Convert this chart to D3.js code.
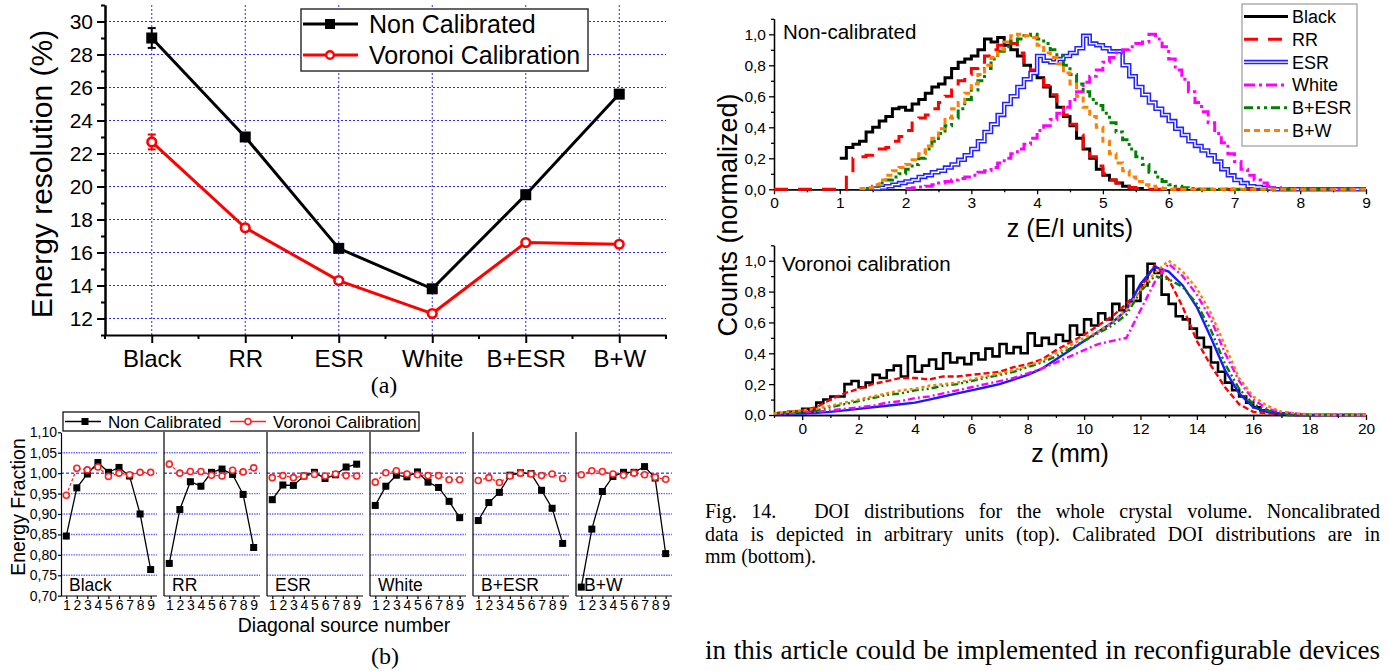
<!DOCTYPE html>
<html><head><meta charset="utf-8">
<script src="https://cdn.jsdelivr.net/npm/d3@7"></script>
<style>body{margin:0;background:#fff}svg{display:block}text{font-family:"Liberation Sans",Arial,sans-serif;fill:#000}</style>
</head><body><svg id="c" width="1388" height="671"></svg>
<script>
// ---------------- DATA ----------------
const categories = ["Black","RR","ESR","White","B+ESR","B+W"];
const resNonCal = [29.0,23.0,16.25,13.8,19.5,25.6];
const resNonCalErr = [0.6,0.2,0.2,0.15,0.25,0.25];
const resVoronoi = [22.7,17.5,14.3,12.3,16.6,16.5];
const resVoronoiErr = [0.45,0.15,0.15,0.15,0.15,0.1];
const resTicks = [12,14,16,18,20,22,24,26,28,30];
const resMinor = [11,13,15,17,19,21,23,25,27,29,31];

const sourceNumbers = [1,2,3,4,5,6,7,8,9];
const fracTicks = [0.70,0.75,0.80,0.85,0.90,0.95,1.00,1.05,1.10];
const fracGrid = [0.75,0.80,0.85,0.90,0.95,1.00,1.05];
const fracNonCal = [
  [0.846,0.964,0.998,1.026,1.002,1.014,0.993,0.900,0.764],
  [0.779,0.911,0.979,0.968,1.002,1.010,0.997,0.948,0.818],
  [0.935,0.971,0.970,0.993,1.002,0.987,0.996,1.015,1.022],
  [0.921,0.968,0.995,0.991,1.003,0.978,0.965,0.931,0.891],
  [0.884,0.928,0.953,0.995,1.001,0.999,0.958,0.914,0.828],
  [0.721,0.863,0.955,0.992,1.002,1.002,1.016,0.988,0.803]
];
const fracVoronoi = [
  [0.946,1.012,1.008,1.015,0.992,1.000,0.996,1.002,1.002],
  [1.022,1.000,1.004,1.004,0.995,0.993,1.007,1.003,1.013],
  [0.989,0.994,0.989,0.993,0.997,0.993,0.998,0.994,0.993],
  [0.978,1.001,1.006,0.998,0.996,0.994,0.994,0.984,0.984],
  [0.982,0.989,0.977,0.993,1.000,0.998,0.994,0.998,0.987],
  [0.996,1.006,1.004,0.998,0.995,1.000,0.996,0.990,0.985]
];

// DOI non-calibrated (E/I units), bins of 0.1, first bin start given
const doiSeries = ["Black","RR","ESR","White","B+ESR","B+W"];
const ncStep = 0.1;
const ncStart = [1.0, 1.1, 1.5, 2.0, 1.4, 1.3];
const ncBlack = [0.20,0.27,0.29,0.31,0.37,0.40,0.44,0.47,0.52,0.53,0.51,0.55,0.58,0.62,0.66,0.68,0.72,0.78,0.82,0.84,0.86,0.90,0.97,0.95,0.98,0.93,0.90,0.86,0.80,0.76,0.72,0.66,0.60,0.53,0.47,0.41,0.33,0.26,0.20,0.13,0.09,0.06,0.04,0.02,0.01,0.005];
const ncRR = [0.10,0.20,0.21,0.22,0.24,0.26,0.27,0.31,0.34,0.38,0.45,0.46,0.48,0.52,0.56,0.60,0.64,0.70,0.74,0.78,0.82,0.86,0.90,0.93,0.96,0.94,0.88,0.82,0.77,0.72,0.67,0.61,0.55,0.48,0.42,0.35,0.27,0.21,0.15,0.10,0.06,0.04,0.02,0.01,0.005];
const ncESR = [0.005,0.01,0.02,0.03,0.04,0.05,0.06,0.08,0.09,0.11,0.12,0.14,0.16,0.19,0.22,0.26,0.31,0.37,0.42,0.48,0.55,0.60,0.66,0.71,0.75,0.86,0.83,0.82,0.84,0.86,0.88,0.91,0.99,0.94,0.93,0.91,0.89,0.89,0.80,0.73,0.66,0.61,0.56,0.52,0.48,0.44,0.39,0.35,0.31,0.28,0.25,0.22,0.18,0.13,0.09,0.06,0.04,0.02,0.015,0.01,0.005];
const ncWhite = [0.005,0.01,0.015,0.02,0.03,0.04,0.05,0.06,0.07,0.08,0.09,0.11,0.12,0.14,0.17,0.20,0.23,0.26,0.29,0.33,0.38,0.41,0.45,0.49,0.53,0.58,0.63,0.69,0.73,0.77,0.82,0.85,0.88,0.90,0.92,0.94,0.95,1.00,0.97,0.92,0.84,0.77,0.71,0.63,0.56,0.50,0.43,0.36,0.30,0.23,0.18,0.13,0.09,0.06,0.04,0.02,0.01,0.005];
const ncBESR = [0.005,0.02,0.04,0.06,0.08,0.10,0.13,0.16,0.20,0.26,0.31,0.36,0.41,0.46,0.52,0.58,0.64,0.70,0.78,0.84,0.89,0.92,0.95,0.97,0.99,1.00,0.97,0.94,0.90,0.86,0.80,0.74,0.68,0.63,0.58,0.54,0.49,0.43,0.37,0.32,0.26,0.21,0.16,0.11,0.08,0.05,0.03,0.02,0.01,0.005];
const ncBW = [0.005,0.01,0.03,0.06,0.09,0.12,0.14,0.16,0.19,0.23,0.28,0.33,0.39,0.46,0.52,0.56,0.62,0.68,0.74,0.80,0.85,0.90,0.95,0.99,1.00,0.99,0.98,0.93,0.88,0.85,0.81,0.75,0.68,0.60,0.53,0.47,0.40,0.31,0.23,0.17,0.12,0.08,0.05,0.03,0.02,0.01,0.005];

// DOI Voronoi calibrated (mm), values from z = -1
const vcStart = -1;
const vcBlackStep = 0.25;
const vcBlack = [0.01,0.01,0.02,0.02,0.04,0.03,0.08,0.10,0.12,0.12,0.20,0.22,0.18,0.21,0.26,0.24,0.29,0.32,0.25,0.38,0.28,0.32,0.36,0.30,0.40,0.34,0.37,0.33,0.40,0.36,0.43,0.38,0.46,0.40,0.44,0.40,0.53,0.45,0.50,0.46,0.52,0.48,0.58,0.52,0.62,0.58,0.66,0.62,0.72,0.68,0.90,0.74,0.84,0.98,0.92,0.78,0.72,0.64,0.62,0.56,0.50,0.44,0.34,0.28,0.21,0.16,0.12,0.08,0.05,0.03,0.02,0.01,0.01];
const vcStep = 0.5;
const vcRR = [0.01,0.02,0.03,0.05,0.10,0.14,0.17,0.20,0.22,0.24,0.24,0.23,0.25,0.25,0.26,0.27,0.28,0.31,0.33,0.36,0.42,0.47,0.52,0.58,0.64,0.72,0.82,0.97,0.88,0.70,0.48,0.32,0.18,0.07,0.02,0.01,0.005];
const vcESR = [0.005,0.01,0.01,0.015,0.02,0.03,0.04,0.05,0.06,0.07,0.08,0.10,0.12,0.14,0.16,0.18,0.20,0.23,0.26,0.30,0.36,0.42,0.48,0.54,0.60,0.68,0.85,0.96,0.93,0.84,0.70,0.50,0.29,0.14,0.05,0.02,0.01];
const vcWhite = [0.01,0.01,0.02,0.02,0.03,0.04,0.05,0.06,0.08,0.09,0.11,0.12,0.14,0.16,0.18,0.20,0.22,0.24,0.27,0.30,0.34,0.38,0.42,0.46,0.48,0.50,0.68,0.86,0.98,0.90,0.78,0.62,0.40,0.22,0.10,0.04,0.02,0.01];
const vcBESR = [0.01,0.02,0.02,0.03,0.05,0.07,0.09,0.11,0.13,0.14,0.16,0.17,0.19,0.20,0.22,0.24,0.26,0.28,0.31,0.34,0.38,0.43,0.48,0.53,0.58,0.65,0.80,0.90,0.88,0.83,0.72,0.55,0.33,0.17,0.07,0.03,0.01];
const vcBW = [0.01,0.02,0.03,0.04,0.06,0.08,0.10,0.12,0.14,0.16,0.17,0.19,0.20,0.21,0.23,0.25,0.27,0.29,0.32,0.35,0.40,0.45,0.50,0.54,0.60,0.68,0.81,0.92,1.00,0.93,0.82,0.66,0.45,0.24,0.12,0.06,0.02,0.01,0.005];

const doiYTicks = [0,0.2,0.4,0.6,0.8,1.0];
const doiYMinor = [0.1,0.3,0.5,0.7,0.9,1.1];
const ncXTicks = [0,1,2,3,4,5,6,7,8,9];
const ncXMinor = [0.5,1.5,2.5,3.5,4.5,5.5,6.5,7.5,8.5];
const vcXTicks = [0,2,4,6,8,10,12,14,16,18,20];
const vcXMinor = [-1,1,3,5,7,9,11,13,15,17,19];

// ---------------- DRAW ----------------
const SERIF = '"Liberation Serif","Times New Roman",serif';
const svg = d3.select("#c");
svg.append("rect").attr("width",1388).attr("height",671).attr("fill","#fff");
const gridBlue = "#2a2aff";

function styleAxis(g, fs, sw){
  g.select(".domain").attr("stroke","#000").attr("stroke-width",sw);
  g.selectAll(".tick line").attr("stroke","#000").attr("stroke-width",sw);
  g.selectAll("text").attr("font-size",fs).attr("fill","#000");
}

// ===== (a) =====
const xa = d3.scalePoint().domain(categories).range([105,666]).padding(0.5);
const ya = d3.scaleLinear().domain([11,31]).range([335,5]);
const ga = svg.append("g");
ga.selectAll(".hg").data(resTicks).join("line")
  .attr("x1",105).attr("x2",666).attr("y1",d=>ya(d)).attr("y2",d=>ya(d))
  .attr("stroke",gridBlue).attr("stroke-width",1).attr("stroke-dasharray","2,2");
ga.selectAll(".vg").data(categories).join("line")
  .attr("x1",d=>xa(d)).attr("x2",d=>xa(d)).attr("y1",5).attr("y2",335)
  .attr("stroke",gridBlue).attr("stroke-width",1).attr("stroke-dasharray","2,2");
const ayMinor = ga.append("g").attr("transform","translate(105,0)")
  .call(d3.axisLeft(ya).tickValues(resMinor).tickFormat("").tickSize(4).tickSizeOuter(0));
styleAxis(ayMinor,21,2);
const ay = ga.append("g").attr("transform","translate(105,0)")
  .call(d3.axisLeft(ya).tickValues(resTicks).tickSize(8).tickPadding(4).tickSizeOuter(0));
styleAxis(ay,21,2);
const ax = ga.append("g").attr("transform","translate(0,335)")
  .call(d3.axisBottom(xa).tickSize(8).tickPadding(7).tickSizeOuter(0));
styleAxis(ax,24,2);
const stepA = xa.step();
const minorA = [xa(categories[0])-stepA/2].concat(categories.map(c=>xa(c)+stepA/2));
ga.selectAll(".mxa").data(minorA).join("line")
  .attr("x1",d=>d).attr("x2",d=>d).attr("y1",335).attr("y2",339).attr("stroke","#000").attr("stroke-width",2);
ga.append("text").attr("transform","translate(52,174) rotate(-90)").attr("text-anchor","middle")
  .attr("font-size",30).text("Energy resolution (%)");

function seriesA(vals, errs, color, marker){
  const pts = categories.map((c,i)=>({x:xa(c), v:vals[i], e:errs[i]}));
  ga.append("path").datum(pts).attr("fill","none").attr("stroke",color).attr("stroke-width",3)
    .attr("d",d3.line().x(d=>d.x).y(d=>ya(d.v)));
  pts.forEach(p=>{
    ga.append("line").attr("x1",p.x).attr("x2",p.x).attr("y1",ya(p.v-p.e)).attr("y2",ya(p.v+p.e)).attr("stroke",color).attr("stroke-width",2);
    [p.v-p.e,p.v+p.e].forEach(v=>ga.append("line").attr("x1",p.x-4).attr("x2",p.x+4).attr("y1",ya(v)).attr("y2",ya(v)).attr("stroke",color).attr("stroke-width",2));
    if(marker==="sq") ga.append("rect").attr("x",p.x-5.5).attr("y",ya(p.v)-5.5).attr("width",11).attr("height",11).attr("fill",color);
    else ga.append("circle").attr("cx",p.x).attr("cy",ya(p.v)).attr("r",4.3).attr("fill","#fff").attr("stroke",color).attr("stroke-width",2.6);
  });
}
seriesA(resNonCal,resNonCalErr,"#000","sq");
seriesA(resVoronoi,resVoronoiErr,"#ff0000","ci");
ga.append("rect").attr("x",301).attr("y",9).attr("width",287).attr("height",62).attr("fill","#fff").attr("stroke","#333").attr("stroke-width",1.5);
[["Non Calibrated","#000","sq",24],["Voronoi Calibration","#ff0000","ci",55]].forEach(([t,c,m,y])=>{
  ga.append("line").attr("x1",303).attr("x2",358).attr("y1",y).attr("y2",y).attr("stroke",c).attr("stroke-width",3);
  if(m==="sq") ga.append("rect").attr("x",325).attr("y",y-5).attr("width",10).attr("height",10).attr("fill",c);
  else ga.append("circle").attr("cx",330).attr("cy",y).attr("r",3.8).attr("fill","#fff").attr("stroke",c).attr("stroke-width",2.4);
  ga.append("text").attr("x",369).attr("y",y).attr("dy","0.36em").attr("font-size",25).text(t);
});
svg.append("text").attr("x",384).attr("y",393).attr("text-anchor","middle").style("font-family",SERIF).attr("font-size",24).text("(a)");

// ===== (b) =====
const yb = d3.scaleLinear().domain([0.70,1.10]).range([595.7,432.3]);
const gb = svg.append("g");
const commaFmt2 = d=>d.toFixed(2).replace(".",",");
categories.forEach((cat,i)=>{
  const x0 = 61 + i*103;
  const xb = d3.scaleLinear().domain([0.5,9.6]).range([x0,x0+96]);
  gb.selectAll(null).data(fracGrid).join("line")
    .attr("x1",x0).attr("x2",x0+96).attr("y1",d=>yb(d)).attr("y2",d=>yb(d))
    .attr("stroke",d=>d===1?"#0000ee":"#6b6bff").attr("stroke-width",d=>d===1?1:1.4).attr("stroke-dasharray",d=>d===1?"3,2":"1.5,1");
  const axb = gb.append("g").attr("transform","translate(0,596)")
    .call(d3.axisBottom(xb).tickValues(sourceNumbers).tickFormat(d3.format("d")).tickSize(3).tickPadding(1).tickSizeOuter(0));
  styleAxis(axb,14,1.2);
  axb.select(".domain").attr("d",`M${x0},0H${x0+96}`);
  if(i===0){
    const ayb = gb.append("g").attr("transform",`translate(${x0},0)`)
      .call(d3.axisLeft(yb).tickValues(fracTicks).tickFormat(commaFmt2).tickSize(3).tickPadding(1).tickSizeOuter(0));
    styleAxis(ayb,14,1.2);
  } else {
    gb.append("line").attr("x1",x0).attr("x2",x0).attr("y1",432).attr("y2",596).attr("stroke","#000").attr("stroke-width",1.2);
  }
  gb.append("text").attr("x",x0+8).attr("y",591).attr("font-size",17.5).text(cat);
  const nc = sourceNumbers.map((s,k)=>({s, v:fracNonCal[i][k]}));
  const vc = sourceNumbers.map((s,k)=>({s, v:fracVoronoi[i][k]}));
  gb.append("path").datum(vc).attr("fill","none").attr("stroke","#ff2020").attr("stroke-width",1.2).attr("stroke-dasharray","3,2")
    .attr("d",d3.line().x(d=>xb(d.s)).y(d=>yb(d.v)));
  gb.append("path").datum(nc).attr("fill","none").attr("stroke","#000").attr("stroke-width",1.3)
    .attr("d",d3.line().x(d=>xb(d.s)).y(d=>yb(d.v)));
  nc.forEach(d=>{
    gb.append("line").attr("x1",xb(d.s)).attr("x2",xb(d.s)).attr("y1",yb(d.v-0.008)).attr("y2",yb(d.v+0.008)).attr("stroke","#000").attr("stroke-width",1);
    gb.append("rect").attr("x",xb(d.s)-3.5).attr("y",yb(d.v)-3.5).attr("width",7).attr("height",7).attr("fill","#000");
  });
  vc.forEach(d=>{
    gb.append("line").attr("x1",xb(d.s)).attr("x2",xb(d.s)).attr("y1",yb(d.v-0.008)).attr("y2",yb(d.v+0.008)).attr("stroke","#ff2020").attr("stroke-width",1);
    gb.append("circle").attr("cx",xb(d.s)).attr("cy",yb(d.v)).attr("r",3).attr("fill","#fff").attr("stroke","#ff2020").attr("stroke-width",1.6);
  });
});
gb.append("text").attr("transform","translate(25,507) rotate(-90)").attr("text-anchor","middle").attr("font-size",19.5).text("Energy Fraction");
gb.append("text").attr("x",344).attr("y",632).attr("text-anchor","middle").attr("font-size",19.5).text("Diagonal source number");
gb.append("rect").attr("x",63).attr("y",412).attr("width",356).attr("height",19).attr("fill","#fff").attr("stroke","#000").attr("stroke-width",1.2);
gb.append("line").attr("x1",65).attr("x2",101).attr("y1",421.5).attr("y2",421.5).attr("stroke","#000").attr("stroke-width",1.5);
gb.append("rect").attr("x",81.5).attr("y",418).attr("width",7).attr("height",7).attr("fill","#000");
gb.append("text").attr("x",108).attr("y",421.5).attr("dy","0.36em").attr("font-size",17).text("Non Calibrated");
gb.append("line").attr("x1",230).attr("x2",266).attr("y1",421.5).attr("y2",421.5).attr("stroke","#ff2020").attr("stroke-width",1.5);
gb.append("circle").attr("cx",248).attr("cy",421.5).attr("r",3).attr("fill","#fff").attr("stroke","#ff2020").attr("stroke-width",1.6);
gb.append("text").attr("x",273).attr("y",421.5).attr("dy","0.36em").attr("font-size",17).text("Voronoi Calibration");
svg.append("text").attr("x",385).attr("y",664).attr("text-anchor","middle").style("font-family",SERIF).attr("font-size",24).text("(b)");

// ===== DOI charts =====
const commaFmt1 = d=>d.toFixed(1).replace(".",",");
const topStyles = [
  {c:"#000000", w:3, dash:null},
  {c:"#ff0000", w:3, dash:"14,10"},
  {c:"#2323ff", w:4.5, dash:null, dbl:true},
  {c:"#ff00ff", w:3, dash:"11,4,3,4"},
  {c:"#008000", w:3, dash:"9,4,3,4,3,4"},
  {c:"#ff8000", w:3, dash:"6,4"}
];
const botStyles = [
  {c:"#000000", w:2.6, dash:null},
  {c:"#ff0000", w:2.4, dash:"6,3"},
  {c:"#1a1aff", w:2.4, dash:null},
  {c:"#ff00ff", w:2.4, dash:"7,3,2,3"},
  {c:"#008000", w:2.4, dash:"7,3,2,3,2,3"},
  {c:"#ff8000", w:2.4, dash:"3,3"}
];

function doiAxes(g, x, y, xTicks, xMinor, x0, yB){
  const axm = g.append("g").attr("transform",`translate(0,${yB})`).call(d3.axisBottom(x).tickValues(xMinor).tickFormat("").tickSize(3).tickSizeOuter(0));
  styleAxis(axm,15,1.3);
  const axM = g.append("g").attr("transform",`translate(0,${yB})`).call(d3.axisBottom(x).tickValues(xTicks).tickFormat(d3.format("d")).tickSize(5).tickPadding(3).tickSizeOuter(0));
  styleAxis(axM,15.5,1.3);
  const aym = g.append("g").attr("transform",`translate(${x0},0)`).call(d3.axisLeft(y).tickValues(doiYMinor).tickFormat("").tickSize(3).tickSizeOuter(0));
  styleAxis(aym,15,1.3);
  const ayM = g.append("g").attr("transform",`translate(${x0},0)`).call(d3.axisLeft(y).tickValues(doiYTicks).tickFormat(commaFmt1).tickSize(5).tickPadding(3).tickSizeOuter(0));
  styleAxis(ayM,15.5,1.3);
}
function drawPath(g, pts, x, y, st, curve){
  const line = d3.line().x(d=>x(d[0])).y(d=>y(d[1])).curve(curve);
  const p = g.append("path").datum(pts).attr("fill","none").attr("stroke",st.c).attr("stroke-width",st.w).attr("d",line);
  if(st.dash) p.attr("stroke-dasharray",st.dash);
  if(st.dbl) g.append("path").datum(pts).attr("fill","none").attr("stroke","#fff").attr("stroke-width",1.4).attr("d",line);
}

// top chart
const xt = d3.scaleLinear().domain([0,9]).range([774,1366]);
const yt = d3.scaleLinear().domain([0,1.1]).range([189.3,18.8]);
const gt = svg.append("g");
doiAxes(gt, xt, yt, ncXTicks, ncXMinor, 774, 189.3);
const ncVals = [ncBlack, ncRR, ncESR, ncWhite, ncBESR, ncBW];
ncVals.forEach((vals,si)=>{
  const pts = [];
  const s = ncStart[si];
  if(si===1){ for(let k=0;k<Math.round(s/ncStep);k++) pts.push([k*ncStep,0]); }
  vals.forEach((v,k)=>pts.push([s+k*ncStep, v]));
  const end = s+vals.length*ncStep;
  pts.push([end,0]);
  if(si!==0) pts.push([9,0]);
  drawPath(gt, pts, xt, yt, topStyles[si], d3.curveStepAfter);
});
gt.append("text").attr("x",783).attr("y",39).attr("font-size",20.5).text("Non-calibrated");
gt.append("text").attr("x",1070).attr("y",237).attr("text-anchor","middle").attr("font-size",25).text("z (E/I units)");
gt.append("rect").attr("x",1242).attr("y",4).attr("width",115).attr("height",142).attr("fill","#fff").attr("stroke","#999").attr("stroke-width",1.2);
doiSeries.forEach((name,si)=>{
  const yy = 16.5 + si*22.8;
  drawPath(gt, [[0,yy],[1,yy]], d3.scaleLinear().domain([0,1]).range([1244,1288]), v=>v, topStyles[si], d3.curveLinear);
  gt.append("text").attr("x",1292).attr("y",yy).attr("dy","0.36em").attr("font-size",18).text(name);
});

// bottom chart
const xv = d3.scaleLinear().domain([-1,20]).range([774,1366]);
const yv = d3.scaleLinear().domain([0,1.1]).range([415,245.3]);
const gv = svg.append("g");
doiAxes(gv, xv, yv, vcXTicks, vcXMinor, 774, 415);
const vcVals = [vcBlack, vcRR, vcESR, vcWhite, vcBESR, vcBW];
vcVals.forEach((vals,si)=>{
  const step = si===0 ? vcBlackStep : vcStep;
  const pts = vals.map((v,k)=>[vcStart+k*step, v]);
  pts.push([vcStart+vals.length*step,0]);
  pts.push([20,0]);
  drawPath(gv, pts, xv, yv, botStyles[si], si===0 ? d3.curveStepAfter : d3.curveLinear);
});
gv.append("text").attr("x",782).attr("y",271).attr("font-size",20.5).text("Voronoi calibration");
gv.append("text").attr("x",1070).attr("y",462).attr("text-anchor","middle").attr("font-size",25).text("z (mm)");
svg.append("text").attr("transform","translate(737,215) rotate(-90)").attr("text-anchor","middle").attr("font-size",27).text("Counts (normalized)");

// ===== caption text =====
function justify(words, x0, x1, y, size, weights){
  const g = svg.append("g");
  const nodes = words.map(w=>g.append("text").style("font-family",SERIF).attr("font-size",size).attr("y",y).text(w));
  const widths = nodes.map(n=>n.node().getComputedTextLength());
  const wts = weights || words.slice(1).map(()=>1);
  const unit = x1===null ? size*0.25 : (x1-x0-d3.sum(widths))/d3.sum(wts);
  let x = x0;
  nodes.forEach((n,i)=>{ n.attr("x",x); x += widths[i] + (i<wts.length ? wts[i]*unit : 0); });
}
const cap1 = "Fig. 14. DOI distributions for the whole crystal volume. Noncalibrated".split(" ");
justify(cap1, 705, 1380, 518, 20, cap1.slice(1).map((w,i)=>i===1?2.6:1));
justify("data is depicted in arbitrary units (top). Calibrated DOI distributions are in".split(" "), 705, 1380, 541, 20);
justify("mm (bottom).".split(" "), 705, null, 563, 20);
justify("in this article could be implemented in reconfigurable devices".split(" "), 705, 1380, 659, 27);
</script></body></html>
